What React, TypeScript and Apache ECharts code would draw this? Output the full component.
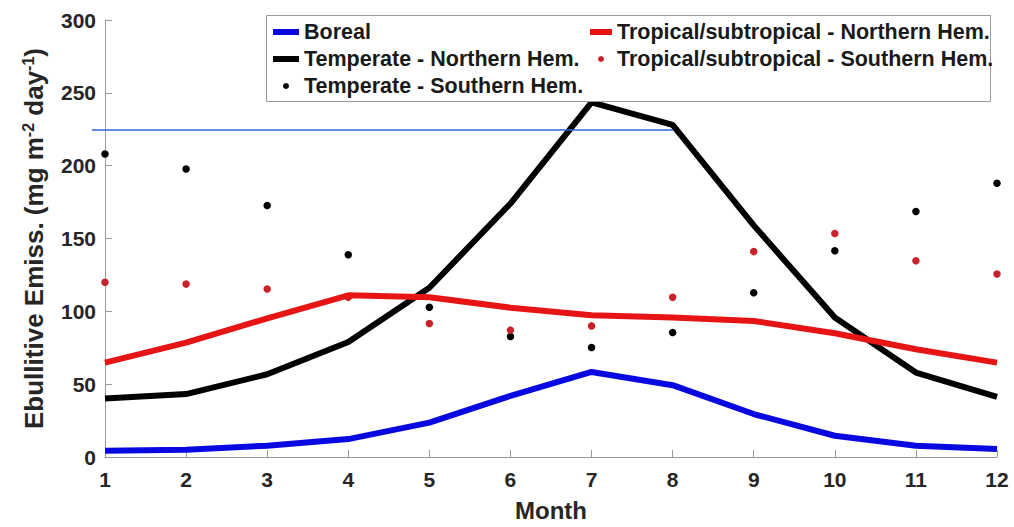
import React, { useEffect, useRef } from "react";
import * as echarts from "echarts";

// Monthly ebullitive methane emission by climate zone (mg m^-2 day^-1)
const months = [1, 2, 3, 4, 5, 6, 7, 8, 9, 10, 11, 12];
const boreal = [4.3, 5, 7.8, 12.3, 23.6, 42, 58.4, 49.3, 29.5, 14.6, 7.7, 5.5];
const temperateNH = [40.2, 43.2, 56.8, 79, 116.2, 174, 243.5, 228, 159, 95.7, 58, 41.3];
const temperateSH = [208, 197.7, 172.6, 138.8, 102.8, 82.7, 75.2, 85.5, 112.8, 141.6, 168.5, 187.9];
const tropicalNH = [64.8, 78.5, 95.2, 111, 109.7, 102.5, 97.3, 95.7, 93.4, 85, 74, 64.8];
const tropicalSH = [120, 118.7, 115.3, 109.6, 91.6, 87.1, 90, 109.6, 141, 153.4, 134.7, 125.6];
const yTicks = { min: 0, max: 300, step: 50 };

const names = {
  boreal: "Boreal",
  tempNH: "Temperate - Northern Hem.",
  tempSH: "Temperate - Southern Hem.",
  tropNH: "Tropical/subtropical - Northern Hem.",
  tropSH: "Tropical/subtropical - Southern Hem.",
};

const FONT = "'Liberation Sans', Arial, Helvetica, sans-serif";
const TXT = "#262626";
const AXIS = "#9a9a9a";
const BLUE = "#0808e0";
const RED = "#e61414";
const RED_DOT = "#c8232c";

const pairs = (vals: number[]) => months.map((m, i) => [m, vals[i]]);

export default function App() {
  const ref = useRef<HTMLDivElement>(null);

  useEffect(() => {
    if (!ref.current) return;
    const chart = echarts.init(ref.current, undefined, { renderer: "svg" });

    const legendText = {
      fontFamily: FONT,
      fontWeight: "bold" as const,
      fontSize: 21.5,
      color: "#1a1a1a",
    };

    chart.setOption({
      animation: false,
      backgroundColor: "#ffffff",
      grid: { left: 105, right: 17, top: 20, bottom: 69 },
      xAxis: {
        type: "value",
        min: 1,
        max: 12,
        interval: 1,
        name: "Month",
        nameLocation: "middle",
        nameGap: 41,
        nameTextStyle: { fontFamily: FONT, fontWeight: "bold", fontSize: 24, color: TXT },
        axisLine: { show: true, lineStyle: { color: AXIS, width: 1 } },
        axisTick: { show: true, inside: true, length: 7, lineStyle: { color: AXIS } },
        axisLabel: { fontFamily: FONT, fontWeight: "bold", fontSize: 21, color: TXT, margin: 12 },
        splitLine: { show: false },
      },
      yAxis: {
        type: "value",
        min: yTicks.min,
        max: yTicks.max,
        interval: yTicks.step,
        name: "{a|Ebullitive Emiss. (mg m}{s|-2}{a| day}{s|-1}{a|)}",
        nameLocation: "middle",
        nameGap: 58,
        nameTextStyle: {
          color: TXT,
          rich: {
            a: { fontFamily: FONT, fontWeight: "bold", fontSize: 26, color: TXT, lineHeight: 27 },
            s: {
              fontFamily: FONT,
              fontWeight: "bold",
              fontSize: 16,
              color: TXT,
              lineHeight: 14,
              verticalAlign: "top",
            },
          },
        },
        axisLine: { show: true, lineStyle: { color: AXIS, width: 1 } },
        axisTick: { show: true, inside: true, length: 7, lineStyle: { color: AXIS } },
        axisLabel: { fontFamily: FONT, fontWeight: "bold", fontSize: 21, color: TXT, margin: 9 },
        splitLine: { show: false },
      },
      legend: [
        {
          orient: "vertical",
          left: 268,
          top: 16,
          itemWidth: 26,
          itemHeight: 6,
          itemGap: 5,
          selectedMode: false,
          z: 10,
          textStyle: legendText,
          data: [
            { name: names.boreal, icon: "rect" },
            { name: names.tempNH, icon: "rect" },
            { name: names.tempSH, icon: "circle" },
          ],
        },
        {
          orient: "vertical",
          left: 585,
          top: 16,
          itemWidth: 22,
          itemHeight: 6,
          itemGap: 5,
          selectedMode: false,
          z: 10,
          textStyle: legendText,
          data: [
            { name: names.tropNH, icon: "rect" },
            { name: names.tropSH, icon: "circle" },
          ],
        },
      ],
      graphic: [
        {
          type: "rect",
          z: 8,
          shape: { x: 266.5, y: 15.5, width: 724, height: 86 },
          style: { fill: "#ffffff", stroke: "#9a9a9a", lineWidth: 1 },
        },
        {
          type: "line",
          z: 9,
          shape: { x1: 92, y1: 130, x2: 673, y2: 130 },
          style: { stroke: "#2f66d6", lineWidth: 1.3 },
        },
      ],
      series: [
        {
          name: names.boreal,
          type: "line",
          data: pairs(boreal),
          symbol: "none",
          lineStyle: { color: BLUE, width: 6 },
          itemStyle: { color: BLUE },
        },
        {
          name: names.tempNH,
          type: "line",
          data: pairs(temperateNH),
          symbol: "none",
          lineStyle: { color: "#000000", width: 6 },
          itemStyle: { color: "#000000" },
        },
        {
          name: names.tempSH,
          type: "scatter",
          data: pairs(temperateSH),
          symbol: "circle",
          symbolSize: 7.5,
          itemStyle: { color: "#000000", opacity: 1 },
        },
        {
          name: names.tropNH,
          type: "line",
          data: pairs(tropicalNH),
          symbol: "none",
          lineStyle: { color: RED, width: 6 },
          itemStyle: { color: RED },
        },
        {
          name: names.tropSH,
          type: "scatter",
          data: pairs(tropicalSH),
          symbol: "circle",
          symbolSize: 7.5,
          itemStyle: { color: RED_DOT, opacity: 1 },
        },
      ],
    });

    return () => chart.dispose();
  }, []);

  return (
    <div
      ref={ref}
      style={{ position: "fixed", left: 0, top: 0, width: 1014, height: 527, background: "#fff" }}
    />
  );
}
